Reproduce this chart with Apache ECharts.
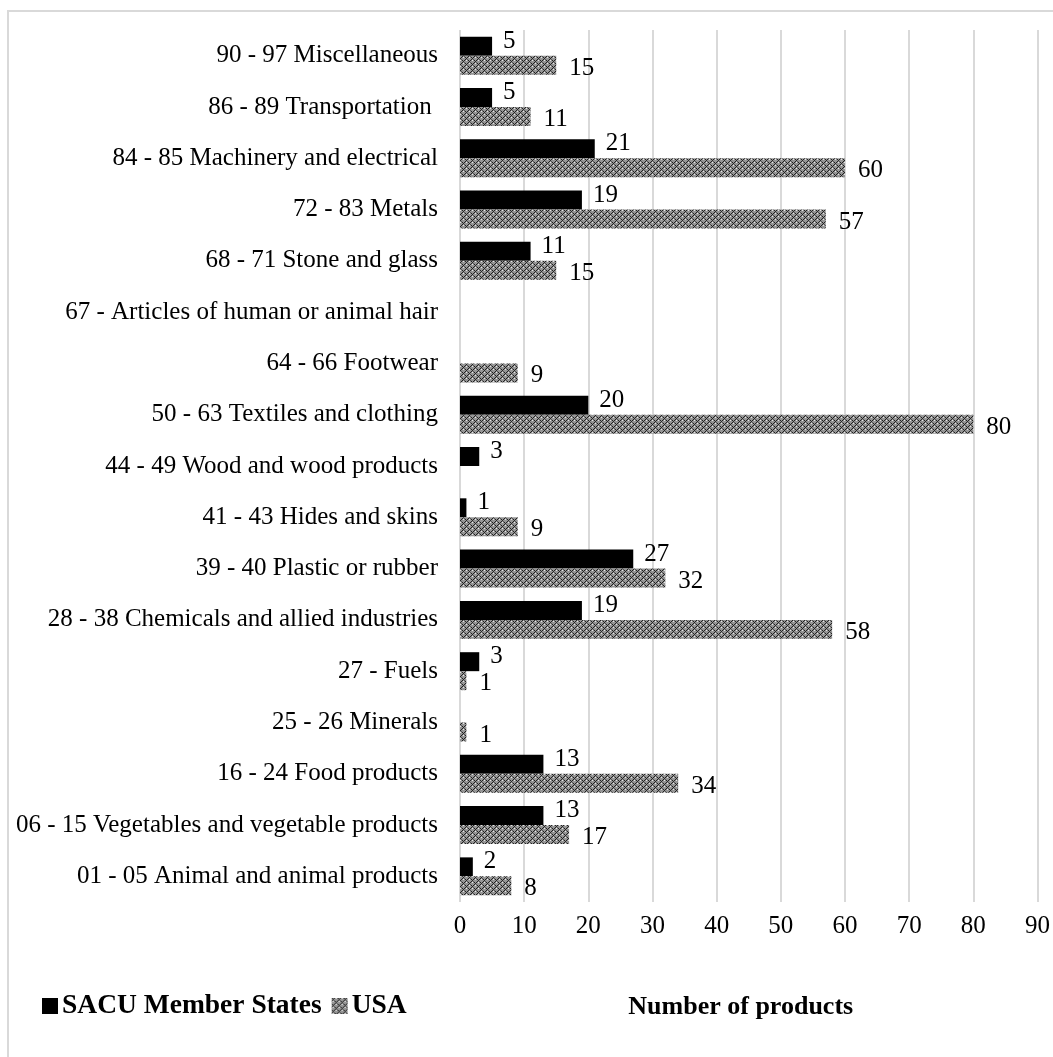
<!DOCTYPE html>
<html>
<head>
<meta charset="utf-8">
<script src="https://cdn.jsdelivr.net/npm/echarts@6/dist/echarts.min.js"></script>
<style>
  html, body { margin: 0; padding: 0; background: #fff; }
  #chart { width: 1053px; height: 1057px; }
</style>
</head>
<body>
<div id="chart"></div>
<script>
// HS product groups, listed bottom to top
const categories = [
  '01 - 05 Animal and animal products',
  '06 - 15 Vegetables and vegetable products',
  '16 - 24 Food products',
  '25 - 26 Minerals',
  '27 - Fuels',
  '28 - 38 Chemicals and allied industries',
  '39 - 40 Plastic or rubber',
  '41 - 43 Hides and skins',
  '44 - 49 Wood and wood products',
  '50 - 63 Textiles and clothing',
  '64 - 66 Footwear',
  '67 - Articles of human or animal hair',
  '68 - 71 Stone and glass',
  '72 - 83 Metals',
  '84 - 85 Machinery and electrical',
  '86 - 89 Transportation ',
  '90 - 97 Miscellaneous'
];
const sacuValues = [2, 13, 13, null, 3, 19, 27, 1, 3, 20, null, null, 11, 19, 21, 5, 5];
const usaValues  = [8, 17, 34, 1, 1, 58, 32, 9, null, 80, 9, null, 15, 57, 60, 11, 15];
const axisTicks = [0, 10, 20, 30, 40, 50, 60, 70, 80, 90];

// Small dotted-grid fill used for the USA bars
function makePattern() {
  const c = document.createElement('canvas');
  c.width = 6; c.height = 6;
  const g = c.getContext('2d');
  g.fillStyle = '#959595';
  g.fillRect(0, 0, 6, 6);
  g.fillStyle = '#222';
  [[0,0],[3,3],[1,1],[4,4],[2,0],[5,3],[0,2],[3,5]].forEach(p => g.fillRect(p[0], p[1], 1, 1));
  g.fillStyle = '#e6e6e6';
  [[1,3],[4,0]].forEach(p => g.fillRect(p[0], p[1], 1, 1));
  g.fillStyle = '#555';
  [[2,2],[5,5]].forEach(p => g.fillRect(p[0], p[1], 1, 1));
  return c;
}

const FONT = '"Liberation Serif", "Times New Roman", serif';
const chart = echarts.init(document.getElementById('chart'), null, { renderer: 'canvas' });
const pattern = { image: makePattern(), repeat: 'repeat' };

chart.setOption({
  animation: false,
  backgroundColor: '#fff',
  textStyle: { fontFamily: FONT, color: '#000' },
  graphic: [{
    type: 'rect',
    shape: { x: 8, y: 11, width: 1060, height: 1060 },
    style: { fill: 'none', stroke: '#d9d9d9', lineWidth: 2 },
    silent: true
  }],
  grid: { left: 460, right: 14, top: 30, bottom: 155, containLabel: false },
  legend: {
    left: 37, top: 987,
    itemWidth: 16, itemHeight: 16, itemGap: 10,
    icon: 'rect',
    textStyle: { fontFamily: FONT, fontSize: 27.5, fontWeight: 'bold', color: '#000', padding: [0, 0, 0, -1] },
    data: ['SACU Member States', 'USA']
  },
  xAxis: {
    type: 'value',
    min: axisTicks[0], max: axisTicks[axisTicks.length - 1], interval: 10,
    name: 'Number of products',
    nameLocation: 'middle', nameGap: 92,
    nameTextStyle: { fontFamily: FONT, fontSize: 26, fontWeight: 'bold', color: '#000', padding: [0, 16, 0, 0] },
    axisLine: { show: false }, axisTick: { show: false },
    axisLabel: { fontFamily: FONT, fontSize: 25, color: '#000', margin: 12 },
    splitLine: { show: true, lineStyle: { color: '#d9d9d9', width: 2 } }
  },
  yAxis: {
    type: 'category',
    data: categories,
    axisLine: { show: false }, axisTick: { show: false },
    axisLabel: { fontFamily: FONT, fontSize: 25, color: '#000', margin: 22 },
    splitLine: { show: false }
  },
  series: [
    {
      name: 'SACU Member States', type: 'bar', data: sacuValues,
      itemStyle: { color: '#000' },
      barGap: '0%', barCategoryGap: '26%',
      label: { show: true, position: 'right', distance: 11, offset: [0, -5],
               fontFamily: FONT, fontSize: 25, color: '#000' }
    },
    {
      name: 'USA', type: 'bar', data: usaValues,
      itemStyle: { color: pattern },
      barGap: '0%', barCategoryGap: '26%',
      label: { show: true, position: 'right', distance: 13, offset: [0, 3],
               fontFamily: FONT, fontSize: 25, color: '#000' }
    }
  ]
});
</script>
</body>
</html>
